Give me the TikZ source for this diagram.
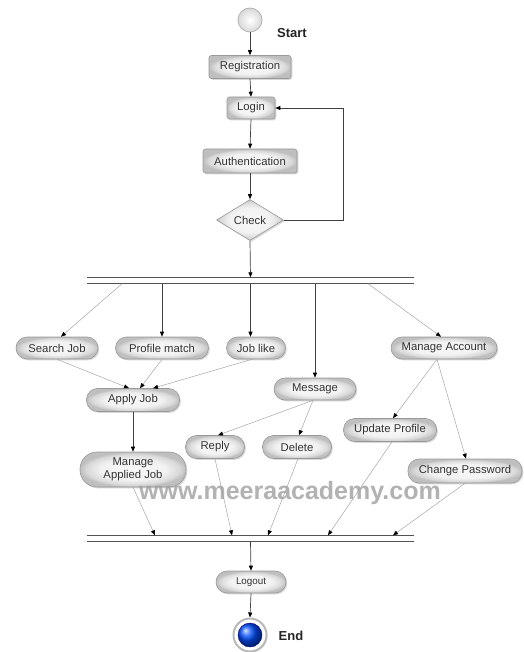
\documentclass[tikz,border=0pt]{standalone}
\usepackage{fontspec}
\setmainfont{Liberation Sans}
\usetikzlibrary{arrows.meta,shapes.geometric,shadows}
\pgfdeclareradialshading{boxshade}{\pgfpoint{0bp}{0bp}}{color(0bp)=(gray!6); color(15bp)=(gray!10); color(22bp)=(gray!30); color(25bp)=(gray!50); color(50bp)=(gray!50)}
\begin{document}
\begin{tikzpicture}[x=1pt,y=-1pt,
  base/.style={draw=gray!80, line width=0.6pt, shading=boxshade,
    drop shadow={shadow xshift=1.3pt,shadow yshift=-1.3pt,opacity=0.3},
    font=\fontsize{11.3}{13}\selectfont, text=black!80, inner sep=0pt, align=center},
  box/.style={base, rectangle, rounded corners=2.5pt},
  pill/.style={base, rectangle, rounded corners=11pt},
  arr/.style={draw=black!75, line width=0.7pt, -{Triangle[length=5pt,width=4pt,color=black]}},
  thin/.style={draw=gray!70, line width=0.5pt, -{Triangle[length=5pt,width=4pt,color=black]}},
  barline/.style={draw=gray!65!black, line width=1pt},
  lbl/.style={font=\bfseries\fontsize{13}{15}\selectfont, text=black!85}
]
\useasboundingbox (0,0) rectangle (523,652);
\fill[white] (0,0) rectangle (523,652);

% start
\node[circle, minimum size=24pt, inner sep=0pt, draw=gray!60, line width=0.8pt, inner color=white, outer color=gray!30] (start) at (250,20) {};
\node[lbl] (startlbl) at (292,33) {Start};

\node[box, minimum width=82pt, minimum height=23pt] (reg) at (250,67) {Registration};
\node[box, minimum width=48pt, minimum height=22pt] (login) at (251,108) {Login};
\node[box, minimum width=94pt, minimum height=24pt] (auth) at (250,161) {Authentication};
\node[base, diamond, aspect=1.63, minimum width=67pt, minimum height=41pt] (check) at (250,220) {Check};

% fork bar
\node[minimum width=327pt, minimum height=6pt, inner sep=0pt, draw=none] (fork) at (250.5,280.5) {};
\draw[barline] (fork.north west) -- (fork.north east);
\draw[barline] (fork.south west) -- (fork.south east);

% activity nodes
\node[pill, minimum width=82pt, minimum height=22pt] (sj) at (57,348) {Search Job};
\node[pill, minimum width=93pt, minimum height=22pt] (pm) at (162,348) {Profile match};
\node[pill, minimum width=59pt, minimum height=22pt] (jl) at (256,348) {Job like};
\node[pill, minimum width=106pt, minimum height=22pt] (ma) at (444,348) {Manage Account};
\node[pill, minimum width=82pt, minimum height=22pt] (msg) at (315,389) {Message};
\node[pill, minimum width=93pt, minimum height=23pt] (aj) at (133,400) {Apply Job};
\node[pill, minimum width=106pt, minimum height=35pt, rounded corners=17pt, font=\fontsize{11.3}{12.8}\selectfont] (maj) at (133,469.5) {Manage\\Applied Job};
\node[pill, minimum width=59pt, minimum height=23pt] (reply) at (215,447) {Reply};
\node[pill, minimum width=69pt, minimum height=23pt] (del) at (297,447) {Delete};
\node[pill, minimum width=93pt, minimum height=23pt] (up) at (390,430) {Update Profile};
\node[pill, minimum width=114pt, minimum height=24pt] (cp) at (465,471) {Change Password};

% join bar
\node[minimum width=327pt, minimum height=6pt, inner sep=0pt, draw=none] (join) at (250.5,538.5) {};
\draw[barline] (join.north west) -- (join.north east);
\draw[barline] (join.south west) -- (join.south east);

\node[pill, minimum width=70pt, minimum height=22pt, font=\fontsize{9.8}{11}\selectfont] (logout) at (251,582) {Logout};

% end
\node[circle, minimum size=33pt, inner sep=0pt, draw=gray!55, line width=2pt, fill=white,
  drop shadow={shadow xshift=1pt,shadow yshift=-1pt,opacity=0.3}] (end) at (250,635) {};
\node[circle, minimum size=24pt, inner sep=0pt, ball color=blue!70!cyan, draw=blue!50!black, line width=0.4pt] (endball) at (end) {};
\node[lbl] (endlbl) at (291,636) {End};

% connectors
\draw[arr] (start.south) -- (reg.north);
\draw[arr] (reg.south) -- (login.north);
\draw[arr] (login.south) -- (auth.north);
\draw[arr] (auth.south) -- (check.north);
\draw[arr] (check.east) -- ++(60,0) |- (login.east);
\draw[arr] (check.south) -- (fork.north);

\draw[thin] ([xshift=-128.5pt]fork.south) -- ([xshift=4pt]sj.north);
\draw[arr] (fork.south -| pm.north) -- (pm.north);
\draw[arr] (fork.south) -- (fork.south |- jl.north);
\draw[arr] (fork.south -| msg.north) -- (msg.north);
\draw[thin] ([xshift=117.5pt]fork.south) -- ([xshift=-3pt]ma.north);

\draw[thin] (sj.south) -- ([xshift=-4pt]aj.north);
\draw[thin] (pm.south) -- ([xshift=7pt]aj.north);
\draw[thin] ([xshift=-4pt]jl.south) -- ([xshift=20pt]aj.north);
\draw[arr] (aj.south) -- (maj.north);
\draw[thin] ([xshift=-2pt]msg.south) -- ([xshift=3pt]reply.north);
\draw[thin] ([xshift=-2pt]msg.south) -- ([xshift=2pt]del.north);
\draw[thin] ([xshift=-7pt]ma.south) -- ([xshift=3pt]up.north);
\draw[thin] ([xshift=-7pt]ma.south) -- ([xshift=1pt]cp.north);

\draw[thin] (maj.south) -- ([xshift=-95.5pt]join.north);
\draw[thin] (reply.south) -- ([xshift=-18.5pt]join.north);
\draw[thin] ([xshift=1pt]del.south) -- ([xshift=17.5pt]join.north);
\draw[thin] ([xshift=2pt]up.south) -- ([xshift=77.5pt]join.north);
\draw[thin] (cp.south) -- ([xshift=142.5pt]join.north);

\draw[arr] (join.south) -- (logout.north);
\draw[arr] (logout.south) -- (end.north);

% watermark
\node[font=\bfseries\fontsize{25}{28}\selectfont, text=gray!75, opacity=0.8] (wm) at (290,493) {www.meeraacademy.com};
\end{tikzpicture}
\end{document}
